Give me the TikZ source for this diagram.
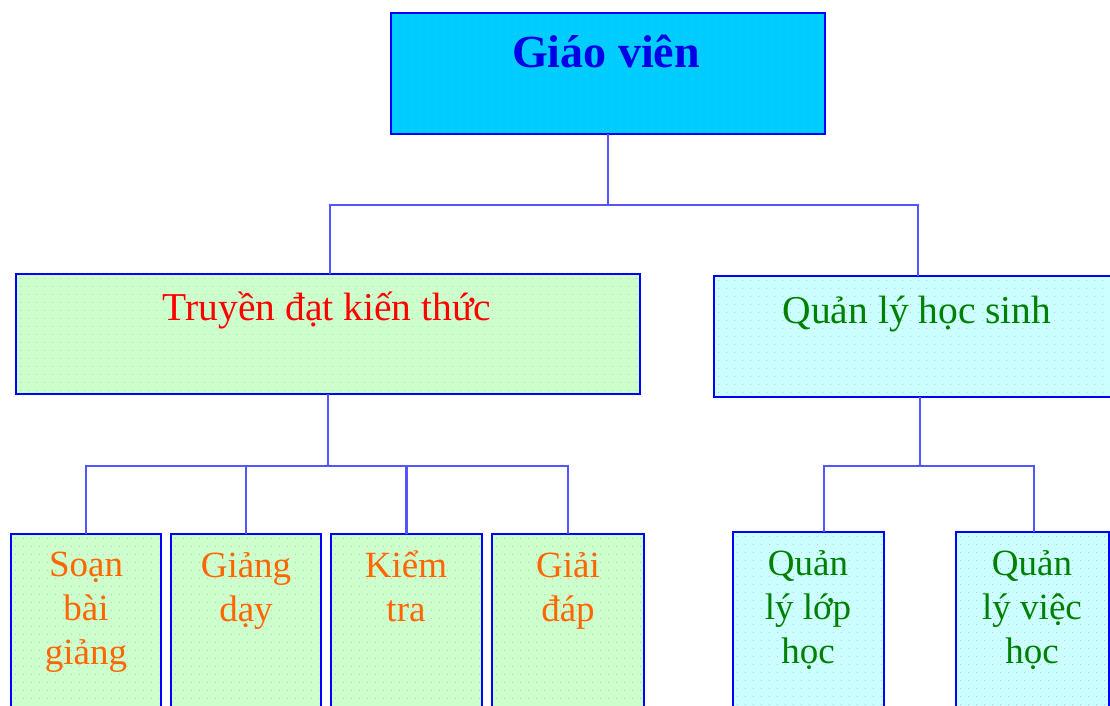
\documentclass[tikz,border=0pt]{standalone}
\usepackage{fontspec}
\setmainfont{Liberation Serif}
\definecolor{gvfill}{RGB}{0,204,255}
\definecolor{tfill}{RGB}{204,255,204}
\definecolor{qfill}{RGB}{204,255,255}
\definecolor{bord}{RGB}{0,0,255}
\definecolor{conncol}{RGB}{85,85,255}
\definecolor{orangetx}{RGB}{255,102,0}
\definecolor{greentx}{RGB}{0,128,0}
\definecolor{bluetx}{RGB}{0,0,230}
\definecolor{redtx}{RGB}{255,0,0}
\definecolor{dotc}{RGB}{200,188,214}
\definecolor{dotg}{RGB}{40,215,235}
\newcommand\mydots[5]{%
  \begin{scope}
    \clip (#1+1.5,#2+1.5) rectangle (#3-1.5,#4-1.5);
    \pgfmathtruncatemacro\nxx{(#3-#1)/8}
    \pgfmathtruncatemacro\nyy{(#4-#2)/8}
    \foreach \i in {0,...,\nxx}{
      \foreach \j in {0,...,\nyy}{
        \fill[#5] ({#1+4+8*\i},{#2+4+8*\j}) rectangle ++(1.3,1.3);
      }
    }
  \end{scope}}
\begin{document}
\begin{tikzpicture}[x=1pt,y=-1pt,
  box/.style={draw=bord, line width=2.3pt, inner sep=0pt, outer sep=0pt, anchor=north west},
  conn/.style={draw=conncol, line width=2.5pt},
  big/.style={font=\fontsize{39.5}{44}\selectfont, anchor=base, inner sep=0pt},
  small/.style={font=\fontsize{37}{44}\selectfont, anchor=base, inner sep=0pt, align=center}]
\useasboundingbox (0,0) rectangle (1110,706);
\clip (0,0) rectangle (1110,706);
% boxes
\node[box, fill=gvfill, minimum width=434pt, minimum height=121pt] (gv) at (391,13) {};
\mydots{391}{13}{825}{134}{dotg}
\node[box, fill=tfill, minimum width=624pt, minimum height=120pt] (tdkt) at (16,274) {};
\mydots{16}{274}{640}{394}{dotc}
\node[box, fill=qfill, minimum width=400pt, minimum height=121pt] (qlhs) at (714,276) {};
\mydots{714}{276}{1114}{397}{dotc}
\node[box, fill=tfill, minimum width=150pt, minimum height=200pt] (s1) at (11,534) {};
\mydots{11}{534}{161}{734}{dotc}
\node[box, fill=tfill, minimum width=150pt, minimum height=200pt] (s2) at (171,534) {};
\mydots{171}{534}{321}{734}{dotc}
\node[box, fill=tfill, minimum width=151pt, minimum height=200pt] (s3) at (331,534) {};
\mydots{331}{534}{482}{734}{dotc}
\node[box, fill=tfill, minimum width=152pt, minimum height=200pt] (s4) at (492,534) {};
\mydots{492}{534}{644}{734}{dotc}
\node[box, fill=qfill, minimum width=151pt, minimum height=200pt] (q1) at (733,532) {};
\mydots{733}{532}{884}{732}{dotc}
\node[box, fill=qfill, minimum width=153pt, minimum height=200pt] (q2) at (956,532) {};
\mydots{956}{532}{1109}{732}{dotc}
% connectors
\coordinate (a1) at (330,205);
\coordinate (a2) at (918,205);
\draw[conn] (gv.south) -- (gv.south |- a1);
\draw[conn] (tdkt.north -| a1) -- (a1) -- (a2) -- (qlhs.north -| a2);
\coordinate (h2) at (0,466);
\draw[conn] (tdkt.south) -- (tdkt.south |- h2);
\draw[conn] (s1.north) -- (s1.north |- h2) -- (s4.north |- h2) -- (s4.north);
\draw[conn] (s2.north) -- (s2.north |- h2);
\draw[conn] (s3.north) -- (s3.north |- h2);
\coordinate (c0) at (920,466);
\coordinate (c1) at (824,466);
\coordinate (c2) at (1034,466);
\draw[conn] (qlhs.south -| c0) -- (c0);
\draw[conn] (q1.north -| c1) -- (c1) -- (c2) -- (q2.north -| c2);
% texts (anchor=base is the baseline of the last line)
\node[font=\fontsize{46}{50}\selectfont\bfseries, text=bluetx, anchor=base, inner sep=0pt] (tgv) at (606,68) {Giáo viên};
\node[big, text=redtx] (ttd) at (327,320) {Truyền đạt kiến thức};
\node[big, text=greentx] (tql) at (917,323) {Quản lý học sinh};
\node[small, text=orangetx] (ts1) at (86,664) {Soạn\\bài\\giảng};
\node[small, text=orangetx] (ts2) at (246,621) {Giảng\\dạy};
\node[small, text=orangetx] (ts3) at (406,621) {Kiểm\\tra};
\node[small, text=orangetx] (ts4) at (568,621) {Giải\\đáp};
\node[small, text=greentx] (tq1) at (808,663) {Quản\\lý lớp\\học};
\node[small, text=greentx] (tq2) at (1032,663) {Quản\\lý việc\\học};
\end{tikzpicture}
\end{document}
